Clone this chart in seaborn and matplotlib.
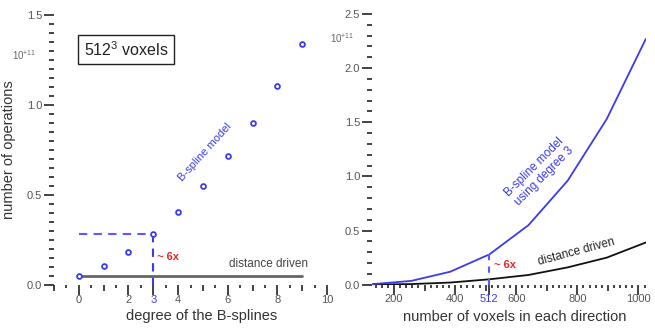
import matplotlib
matplotlib.use("Agg")
from matplotlib import pyplot as plt
from matplotlib.ticker import FixedLocator, FixedFormatter, MultipleLocator
import seaborn as sns

# left panel: cost vs. degree of the B-splines (512^3 voxels), units of 1e11
degrees = [0, 1, 2, 3, 4, 5, 6, 7, 8, 9]
bspline_ops_deg = [0.05, 0.105, 0.185, 0.283, 0.405, 0.548, 0.717, 0.898, 1.106, 1.337]
dd_ops_deg = [0.05, 0.05, 0.05, 0.05, 0.05, 0.05, 0.05, 0.05, 0.05, 0.05]

# right panel: cost vs. number of voxels per direction (degree 3)
voxels = [128, 256, 384, 512, 640, 768, 896, 1024]
bspline_ops_vox = [0.005, 0.035, 0.12, 0.28, 0.55, 0.96, 1.53, 2.27]
dd_ops_vox = [0.001, 0.006, 0.02, 0.05, 0.09, 0.16, 0.25, 0.39]

left_xticks = [0, 2, 3, 4, 6, 8, 10]
right_xticks = [200, 400, 512, 600, 800, 1000]

sns.set_style("white")
plt.rcParams['font.family'] = ['Liberation Sans', 'DejaVu Sans']
plt.rcParams['mathtext.fontset'] = 'custom'
plt.rcParams['mathtext.rm'] = 'Liberation Sans'
plt.rcParams['mathtext.default'] = 'regular'

blue = '#3a3aee'
lblue = '#5a5aff'
grey = '#555555'

fig = plt.figure(figsize=(6.55, 3.33), dpi=100)
ax1 = fig.add_axes([0.0824, 0.144, 0.417, 0.811])
ax2 = fig.add_axes([0.568, 0.145, 0.418, 0.813])


def style_axis(ax):
    for s in ax.spines.values():
        s.set_visible(False)
    ax.tick_params(axis='both', which='both', direction='out', colors='#222222',
                   labelcolor=grey, labelsize=8, width=1.2, bottom=True, left=True)
    ax.tick_params(axis='y', which='major', length=7, pad=1.5)
    ax.tick_params(axis='y', which='minor', length=3.5)
    ax.tick_params(axis='x', which='major', length=6, pad=1)
    ax.tick_params(axis='x', which='minor', length=2.2)


# ---- left panel
ax1.set_xlim(-1, 10)
ax1.set_ylim(0, 1.5)
sns.lineplot(x=degrees, y=dd_ops_deg, ax=ax1, color='#666666', lw=2)
ax1.plot([0, 3], [bspline_ops_deg[3], bspline_ops_deg[3]], ls=(0, (4, 3)), color=lblue, lw=1.5)
ax1.plot([3, 3], [bspline_ops_deg[3], 0], ls=(0, (4, 3)), color=blue, lw=1.5)
sns.scatterplot(x=degrees, y=bspline_ops_deg, ax=ax1, marker='o', s=12,
                facecolor='white', edgecolor=blue, linewidth=1.3, zorder=5)

style_axis(ax1)
ax1.yaxis.set_major_locator(MultipleLocator(0.5))
ax1.yaxis.set_minor_locator(MultipleLocator(0.05))
int_pos = list(range(-1, 11))
ax1.xaxis.set_major_locator(FixedLocator(int_pos))
ax1.xaxis.set_major_formatter(FixedFormatter([str(p) if p in left_xticks else '' for p in int_pos]))
ax1.xaxis.set_minor_locator(MultipleLocator(0.5))
for p, t in zip(int_pos, ax1.xaxis.get_major_ticks()):
    if p in left_xticks:
        t.tick1line.set_markersize(7)
    else:
        t.tick1line.set_markersize(4.5)
    if p == 3:
        t.tick1line.set_color(blue)
        t.label1.set_color(blue)

ax1.set_xlabel('degree of the B-splines', fontsize=10.5, color='#333333')
ax1.set_ylabel('number of operations', fontsize=10.5, color='#333333')
ax1.xaxis.set_label_coords(0.54, -0.09)
ax1.yaxis.set_label_coords(-0.14, 0.5)
ax1.text(-0.11, 0.852, '10$^{+11}$', transform=ax1.transAxes, fontsize=7,
         color='#666666', ha='center', va='center')
ax1.text(1.9, 1.308, '512$^3$ voxels', fontsize=11.5, ha='center', va='center',
         color='#222222', bbox=dict(boxstyle='square,pad=0.35', fc='white', ec='#222222', lw=1))
ax1.text(3.13, 0.157, '~ 6x', color='#ee2222', fontsize=8, fontweight='bold',
         ha='left', va='center')
ax1.text(9.23, 0.115, 'distance driven', color='#444444', fontsize=8.5, ha='right', va='center')
ax1.text(5.08, 0.74, 'B-spline model', color=blue, fontsize=8, rotation=48,
         ha='center', va='center', rotation_mode='anchor')

# ---- right panel
ax2.set_xlim(128, 1024)
ax2.set_ylim(0, 2.5)
sns.lineplot(x=voxels, y=dd_ops_vox, ax=ax2, color='#111111', lw=1.3)
sns.lineplot(x=voxels, y=bspline_ops_vox, ax=ax2, color=blue, lw=1.3)
ax2.plot([512, 512], [bspline_ops_vox[3], 0], ls=(0, (3, 3)), color=lblue, lw=1.5)

style_axis(ax2)
ax2.yaxis.set_major_locator(MultipleLocator(0.5))
ax2.yaxis.set_minor_locator(MultipleLocator(0.1))
rpos = [200, 300, 400, 500, 512, 600, 700, 800, 900, 1000]
ax2.xaxis.set_major_locator(FixedLocator(rpos))
ax2.xaxis.set_major_formatter(FixedFormatter([str(p) if p in right_xticks else '' for p in rpos]))
ax2.xaxis.set_minor_locator(MultipleLocator(20))
for p, t in zip(rpos, ax2.xaxis.get_major_ticks()):
    if p in right_xticks:
        t.tick1line.set_markersize(7)
    else:
        t.tick1line.set_markersize(4.5)
    if p == 512:
        t.tick1line.set_color(blue)
        t.label1.set_color(blue)

ax2.set_xlabel('number of voxels in each direction', fontsize=10.5, color='#333333')
ax2.xaxis.set_label_coords(0.522, -0.095)
ax2.text(-0.11, 0.911, '10$^{+11}$', transform=ax2.transAxes, fontsize=7,
         color='#666666', ha='center', va='center')
ax2.text(528, 0.18, '~ 6x', color='#ee2222', fontsize=8, fontweight='bold',
         ha='left', va='center')
ax2.text(796, 0.30, 'distance driven', color='#222222', fontsize=8.5, rotation=15,
         ha='center', va='center', rotation_mode='anchor')
ax2.text(675, 1.04, 'B-spline model\nusing degree 3', color=blue, fontsize=8.5,
         rotation=45, ha='center', va='center', multialignment='center',
         rotation_mode='anchor', linespacing=1.1)

fig.savefig('out.png', dpi=100)
